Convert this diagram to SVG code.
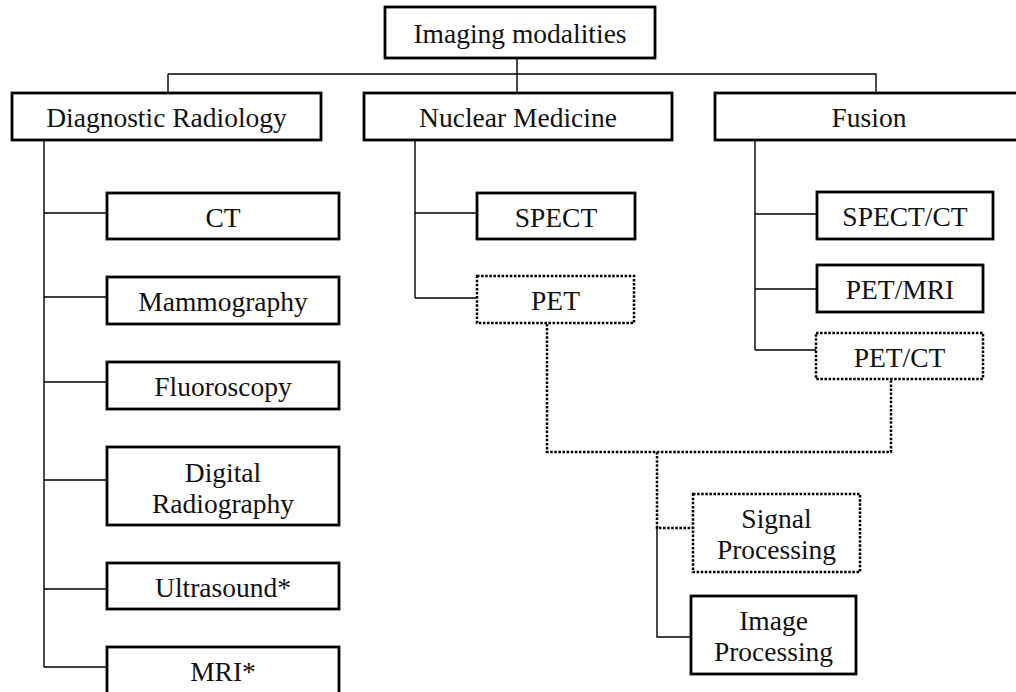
<svg xmlns="http://www.w3.org/2000/svg" width="1016" height="692" viewBox="0 0 1016 692">
<style>
.box{fill:#fff;stroke:#000;stroke-width:2.8}
.dot{fill:#fff;stroke:#000;stroke-width:2.5;stroke-dasharray:2.5 1.6}
.ln{fill:none;stroke:#000;stroke-width:1.4}
.dl{fill:none;stroke:#000;stroke-width:2.5;stroke-dasharray:2.5 1.6}
text{font-family:"Liberation Serif","Times New Roman",serif;font-size:27.5px;fill:#111;text-anchor:middle}
</style>
<rect width="1016" height="692" fill="#fff"/>
<g id="connectors">
<path class="ln" d="M517 58V93M168 74H876V93M168 74V93"/>
<path class="ln" d="M44 140V667M44 213H107M44 297H107M44 382H107M44 480H107M44 589H107M44 667H107"/>
<path class="ln" d="M415 140V298M415 213H477M415 298H477"/>
<path class="ln" d="M755 140V350M755 214H817M755 289H817M755 350H816"/>
<path class="dl" d="M547 324V452H891V380M657 452V528H693"/>
<path class="ln" d="M657 528V637H691"/>
</g>
<g id="root"><rect class="box" x="385" y="7" width="270" height="51"/><text x="520" y="43">Imaging modalities</text></g>
<g id="diag"><rect class="box" x="12" y="93" width="309" height="47"/><text x="166.5" y="127">Diagnostic Radiology</text></g>
<g id="nuc"><rect class="box" x="364" y="93" width="308" height="47"/><text x="518" y="127">Nuclear Medicine</text></g>
<g id="fusion"><rect class="box" x="715" y="93" width="330" height="47"/><text x="869" y="127">Fusion</text></g>
<g id="ct"><rect class="box" x="107" y="193" width="232" height="46"/><text x="223" y="226.5">CT</text></g>
<g id="mammo"><rect class="box" x="107" y="277" width="232" height="47"/><text x="223" y="311">Mammography</text></g>
<g id="fluoro"><rect class="box" x="107" y="362" width="232" height="47"/><text x="223" y="396">Fluoroscopy</text></g>
<g id="digital"><rect class="box" x="107" y="447" width="232" height="78"/><text x="223" y="482">Digital</text><text x="223" y="513">Radiography</text></g>
<g id="us"><rect class="box" x="107" y="563" width="232" height="46"/><text x="223" y="597">Ultrasound*</text></g>
<g id="mri"><rect class="box" x="107" y="647" width="232" height="60"/><text x="223" y="681">MRI*</text></g>
<g id="spect"><rect class="box" x="477" y="193" width="158" height="46"/><text x="556" y="226.5">SPECT</text></g>
<g id="pet"><rect class="dot" x="477" y="276" width="157" height="47"/><text x="555.5" y="310">PET</text></g>
<g id="spectct"><rect class="box" x="817" y="192" width="176" height="47"/><text x="905" y="226">SPECT/CT</text></g>
<g id="petmri"><rect class="box" x="817" y="265" width="166" height="47"/><text x="900" y="299">PET/MRI</text></g>
<g id="petct"><rect class="dot" x="816" y="333" width="167" height="46"/><text x="899.5" y="366.5">PET/CT</text></g>
<g id="signal"><rect class="dot" x="693" y="494" width="167" height="78"/><text x="776.5" y="528">Signal</text><text x="776.5" y="559">Processing</text></g>
<g id="image"><rect class="box" x="691" y="596" width="165" height="78"/><text x="773.5" y="630">Image</text><text x="773.5" y="661">Processing</text></g>
</svg>
